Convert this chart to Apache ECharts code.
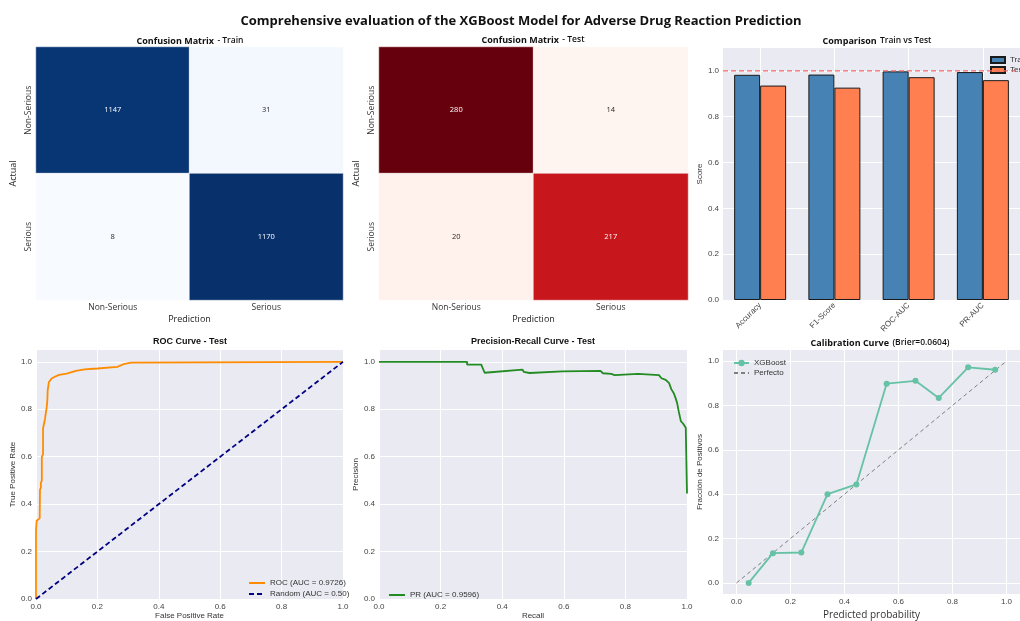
<!DOCTYPE html>
<html><head><meta charset="utf-8">
<script src="https://cdn.jsdelivr.net/npm/echarts@6/dist/echarts.min.js"></script>
<style>html,body{margin:0;padding:0;background:#fff}#c{width:1020px;height:621px}</style>
</head><body><div id="c"></div>
<script>
// ---------- data ----------
const cmLabels = ['Non-Serious', 'Serious'];
const cmTrain = [[1147, 31], [8, 1170]];
const cmTest = [[280, 14], [20, 217]];

const metricNames = ['Accuracy', 'F1-Score', 'ROC-AUC', 'PR-AUC'];
const trainScores = [0.983, 0.984, 0.998, 0.995];
const testScores = [0.936, 0.927, 0.9726, 0.9596];
const referenceLevel = 1.0;

const rocCurve = [[0,0],[0,0.29],[0.002,0.33],[0.012,0.34],[0.013,0.46],[0.016,0.47],[0.016,0.49],[0.019,0.50],[0.019,0.60],[0.023,0.61],[0.023,0.72],[0.029,0.725],[0.029,0.757],[0.033,0.765],[0.035,0.81],[0.037,0.84],[0.038,0.88],[0.041,0.885],[0.042,0.915],[0.048,0.92],[0.051,0.93],[0.058,0.935],[0.062,0.94],[0.075,0.945],[0.078,0.949],[0.1,0.95],[0.102,0.958],[0.13,0.962],[0.133,0.966],[0.158,0.968],[0.16,0.971],[0.2,0.972],[0.203,0.979],[0.265,0.979],[0.27,0.986],[0.285,0.99],[0.29,0.993],[0.31,0.997],[0.316,1.0],[1,1]];
const randomLine = [[0,0],[1,1]];

const prCurve = [[0,1],[0.286,1],[0.286,0.988],[0.332,0.988],[0.343,0.954],[0.466,0.967],[0.47,0.958],[0.489,0.953],[0.595,0.96],[0.6,0.954],[0.719,0.962],[0.727,0.952],[0.754,0.949],[0.765,0.944],[0.841,0.949],[0.846,0.944],[0.909,0.944],[0.917,0.931],[0.931,0.924],[0.942,0.91],[0.949,0.885],[0.957,0.868],[0.963,0.847],[0.968,0.826],[0.973,0.792],[0.98,0.75],[0.987,0.74],[0.996,0.722],[1.0,0.715],[1.0,0.445]];

const calibCurve = [[0.045,0.0],[0.135,0.134],[0.240,0.137],[0.337,0.400],[0.444,0.444],[0.556,0.898],[0.663,0.911],[0.749,0.834],[0.858,0.972],[0.958,0.961]];
const perfectLine = [[0,0],[1,1]];

const unitTicks = [0, 0.2, 0.4, 0.6, 0.8, 1.0];
const categoryCenters = [0, 1, 2, 3];
const barXRange = [-0.5, 3.5];

const bluesMap = ['#f7fbff','#deebf7','#c6dbef','#9ecae1','#6baed6','#4292c6','#2171b5','#08519c','#08306b'];
const redsMap = ['#fff5f0','#fee0d2','#fcbba1','#fc9272','#fb6a4a','#ef3b2c','#cb181d','#a50f15','#67000d'];

// ---------- helpers ----------
const BG = '#EAEAF2';
const TICK = {fontSize: 8, color: '#444', fontFamily: 'Liberation Sans'};
const NAME = {fontSize: 8, color: '#333', fontFamily: 'Liberation Sans'};

function flat(m) { return [].concat.apply([], m); }
function cmData(m) {
  const vals = flat(m), lo = Math.min.apply(null, vals), hi = Math.max.apply(null, vals);
  const out = [];
  m.forEach((row, i) => row.forEach((v, j) => {
    out.push({value: [j, i, v], label: {color: v > (lo + hi) / 2 ? '#fff' : '#262626'}});
  }));
  return {data: out, lo, hi};
}
function vAxis(gi, min, max, name, gap, nameStyle) {
  return {
    type: 'value', gridIndex: gi, min: min, max: max,
    name: name, nameLocation: 'middle', nameGap: gap,
    nameTextStyle: Object.assign({}, NAME, nameStyle || {}),
    axisLine: {show: false},
    axisTick: {show: false, customValues: unitTicks},
    axisLabel: Object.assign({customValues: unitTicks, margin: 4, formatter: v => v.toFixed(1)}, TICK),
    splitLine: {show: true, lineStyle: {color: '#fff', width: 1}}
  };
}
function catAxis(gi, name, gap, isY) {
  return {
    type: 'category', gridIndex: gi, data: cmLabels, inverse: !!isY,
    name: name, nameLocation: 'middle', nameGap: gap,
    nameTextStyle: {fontSize: 9, color: '#222', fontFamily: 'Open Sans'},
    axisLine: {show: false}, axisTick: {show: false}, splitLine: {show: false},
    axisLabel: {fontSize: 8.5, color: '#333', fontFamily: 'Open Sans', margin: 3, rotate: isY ? 90 : 0}
  };
}

const tr = cmData(cmTrain), te = cmData(cmTest);

const grids = [
  {left: 36, top: 47, width: 307, height: 253},   // CM train
  {left: 379, top: 47, width: 309, height: 253},  // CM test
  {left: 723, top: 48, width: 306, height: 252, show: true, backgroundColor: BG, borderWidth: 0}, // bars
  {left: 36, top: 350, width: 307, height: 252, show: true, backgroundColor: BG, borderWidth: 0}, // ROC
  {left: 379, top: 350, width: 308, height: 252, show: true, backgroundColor: BG, borderWidth: 0}, // PR
  {left: 723, top: 350, width: 308, height: 251, show: true, backgroundColor: BG, borderWidth: 0}  // calib
];

const xAxes = [
  catAxis(0, 'Prediction', 15, false),
  catAxis(1, 'Prediction', 15, false),
  {type: 'category', gridIndex: 2, data: metricNames, axisLine: {show: false}, axisTick: {show: false},
   splitLine: {show: false}, axisLabel: Object.assign({rotate: 45, margin: 4}, TICK)},
  vAxis(3, 0, 1, 'False Positive Rate', 13),
  vAxis(4, 0, 1, 'Recall', 13),
  vAxis(5, -0.05, 1.05, 'Predicted probability', 16, {fontSize: 10, fontFamily: 'Open Sans'}),
  {type: 'value', gridIndex: 2, min: barXRange[0], max: barXRange[1], position: 'bottom',
   axisLine: {show: false}, axisTick: {show: false, customValues: categoryCenters},
   axisLabel: {show: false, customValues: categoryCenters},
   splitLine: {show: true, lineStyle: {color: '#fff', width: 1}}}
];
const yAxes = [
  catAxis(0, 'Actual', 18, true),
  catAxis(1, 'Actual', 18, true),
  vAxis(2, 0, 1.1, 'Score', 18),
  vAxis(3, 0, 1.05, 'True Positive Rate', 19),
  vAxis(4, 0, 1.05, 'Precision', 18),
  vAxis(5, -0.05, 1.05, 'Fracción de Positivos', 18)
];

const heatLabel = {show: true, fontSize: 7.5, fontFamily: 'Open Sans', formatter: p => p.value[2]};

const series = [
  {type: 'heatmap', name: 'cmTrain', xAxisIndex: 0, yAxisIndex: 0, data: tr.data, label: heatLabel,
   itemStyle: {borderColor: '#ffffff', borderWidth: 0.5}, emphasis: {disabled: true}},
  {type: 'heatmap', name: 'cmTest', xAxisIndex: 1, yAxisIndex: 1, data: te.data, label: heatLabel,
   itemStyle: {borderColor: '#ffffff', borderWidth: 0.5}, emphasis: {disabled: true}},
  {type: 'bar', name: 'Train', xAxisIndex: 2, yAxisIndex: 2, data: trainScores, barWidth: 26, barGap: '0%',
   itemStyle: {color: '#4682B4', borderColor: '#1a1a1a', borderWidth: 1}, z: 3},
  {type: 'bar', name: 'Test', xAxisIndex: 2, yAxisIndex: 2, data: testScores, barWidth: 26, barGap: '0%',
   itemStyle: {color: '#FF7F50', borderColor: '#1a1a1a', borderWidth: 1}, z: 3},
  {type: 'line', name: 'refLine', xAxisIndex: 6, yAxisIndex: 2,
   data: barXRange.map(x => [x, referenceLevel]), showSymbol: false, symbol: 'none', silent: true, z: 6,
   lineStyle: {color: '#F06868', width: 1.2, type: [5, 3]}, itemStyle: {color: '#F06868'}},
  {type: 'line', name: 'ROC (AUC = 0.9726)', xAxisIndex: 3, yAxisIndex: 3, data: rocCurve, showSymbol: false,
   symbol: 'none', lineStyle: {color: '#FF8C00', width: 1.8}, itemStyle: {color: '#FF8C00'}},
  {type: 'line', name: 'Random (AUC = 0.50)', xAxisIndex: 3, yAxisIndex: 3, data: randomLine, showSymbol: false,
   symbol: 'none', lineStyle: {color: '#000080', width: 1.8, type: [5, 3]}, itemStyle: {color: '#000080'}},
  {type: 'line', name: 'PR (AUC = 0.9596)', xAxisIndex: 4, yAxisIndex: 4, data: prCurve, showSymbol: false,
   symbol: 'none', lineStyle: {color: '#228B22', width: 1.8}, itemStyle: {color: '#228B22'}},
  {type: 'line', name: 'XGBoost', xAxisIndex: 5, yAxisIndex: 5, data: calibCurve, symbol: 'circle', symbolSize: 6,
   lineStyle: {color: '#66C2A5', width: 1.8}, itemStyle: {color: '#66C2A5'}, z: 3},
  {type: 'line', name: 'Perfecto', xAxisIndex: 5, yAxisIndex: 5, data: perfectLine, showSymbol: false,
   symbol: 'none', lineStyle: {color: '#808080', width: 1, type: [4, 3]}, itemStyle: {color: '#808080'}, z: 2}
];

const LEG = {fontSize: 8, color: '#333', fontFamily: 'Liberation Sans'};
const noMarker = {opacity: 0};
const legends = [
  {data: [{name: 'Train', icon: 'rect'}, {name: 'Test', icon: 'rect'}], left: 985, top: 51, orient: 'vertical',
   itemWidth: 14, itemHeight: 6, itemGap: 2, textStyle: LEG, selectedMode: false},
  {data: [{name: 'ROC (AUC = 0.9726)', itemStyle: noMarker}, {name: 'Random (AUC = 0.50)', itemStyle: noMarker}],
   left: 243, top: 574, orient: 'vertical', itemWidth: 16, itemHeight: 8, itemGap: 3, textStyle: LEG, selectedMode: false},
  {data: [{name: 'PR (AUC = 0.9596)', itemStyle: noMarker}], left: 383, top: 586, orient: 'vertical',
   itemWidth: 16, itemHeight: 8, itemGap: 3, textStyle: LEG, selectedMode: false},
  {data: ['XGBoost', {name: 'Perfecto', itemStyle: noMarker}], left: 728, top: 354, orient: 'vertical',
   itemWidth: 15, itemHeight: 8, itemGap: 2, textStyle: LEG, selectedMode: false}
];

function titleText(x, y, text, rich) {
  return {type: 'text', x: x, y: y, silent: true, z: 10,
    style: {text: text, rich: rich, align: 'center', verticalAlign: 'middle', textAlign: 'center', textVerticalAlign: 'middle', fill: '#111'}};
}
const richA = {a: {fontFamily: 'Open Sans', fontWeight: 'bold', fontSize: 9, fill: '#111', color: '#111'},
               b: {fontFamily: 'Open Sans', fontWeight: 600, fontSize: 8.5, fill: '#111', color: '#111'}};
const richB = {a: {fontFamily: 'Liberation Sans', fontWeight: 'bold', fontSize: 9, fill: '#111', color: '#111'}};

const graphics = [
  {type: 'text', x: 521, y: 21, silent: true,
   style: {text: 'Comprehensive evaluation of the XGBoost Model for Adverse Drug Reaction Prediction',
     font: 'bold 13px "Open Sans"', fill: '#111', align: 'center', verticalAlign: 'middle', textAlign: 'center', textVerticalAlign: 'middle'}},
  titleText(190, 41, '{a|Confusion Matrix} {b|- Train}', richA),
  titleText(533, 40, '{a|Confusion Matrix} {b|- Test}', richA),
  titleText(877, 41, '{a|Comparison} {b|Train vs Test}', richA),
  titleText(190, 342, '{a|ROC Curve - Test}', richB),
  titleText(533, 342, '{a|Precision-Recall Curve - Test}', richB),
  titleText(880, 343, '{a|Calibration Curve} {b|(Brier=0.0604)}', richA)
];

const chart = echarts.init(document.getElementById('c'), null, {renderer: 'canvas'});
chart.setOption({
  backgroundColor: '#ffffff',
  animation: false,
  grid: grids,
  xAxis: xAxes,
  yAxis: yAxes,
  visualMap: [
    {type: 'continuous', seriesIndex: 0, dimension: 2, min: tr.lo, max: tr.hi, show: false, inRange: {color: bluesMap}},
    {type: 'continuous', seriesIndex: 1, dimension: 2, min: te.lo, max: te.hi, show: false, inRange: {color: redsMap}}
  ],
  legend: legends,
  series: series,
  graphic: graphics
});
</script></body></html>
